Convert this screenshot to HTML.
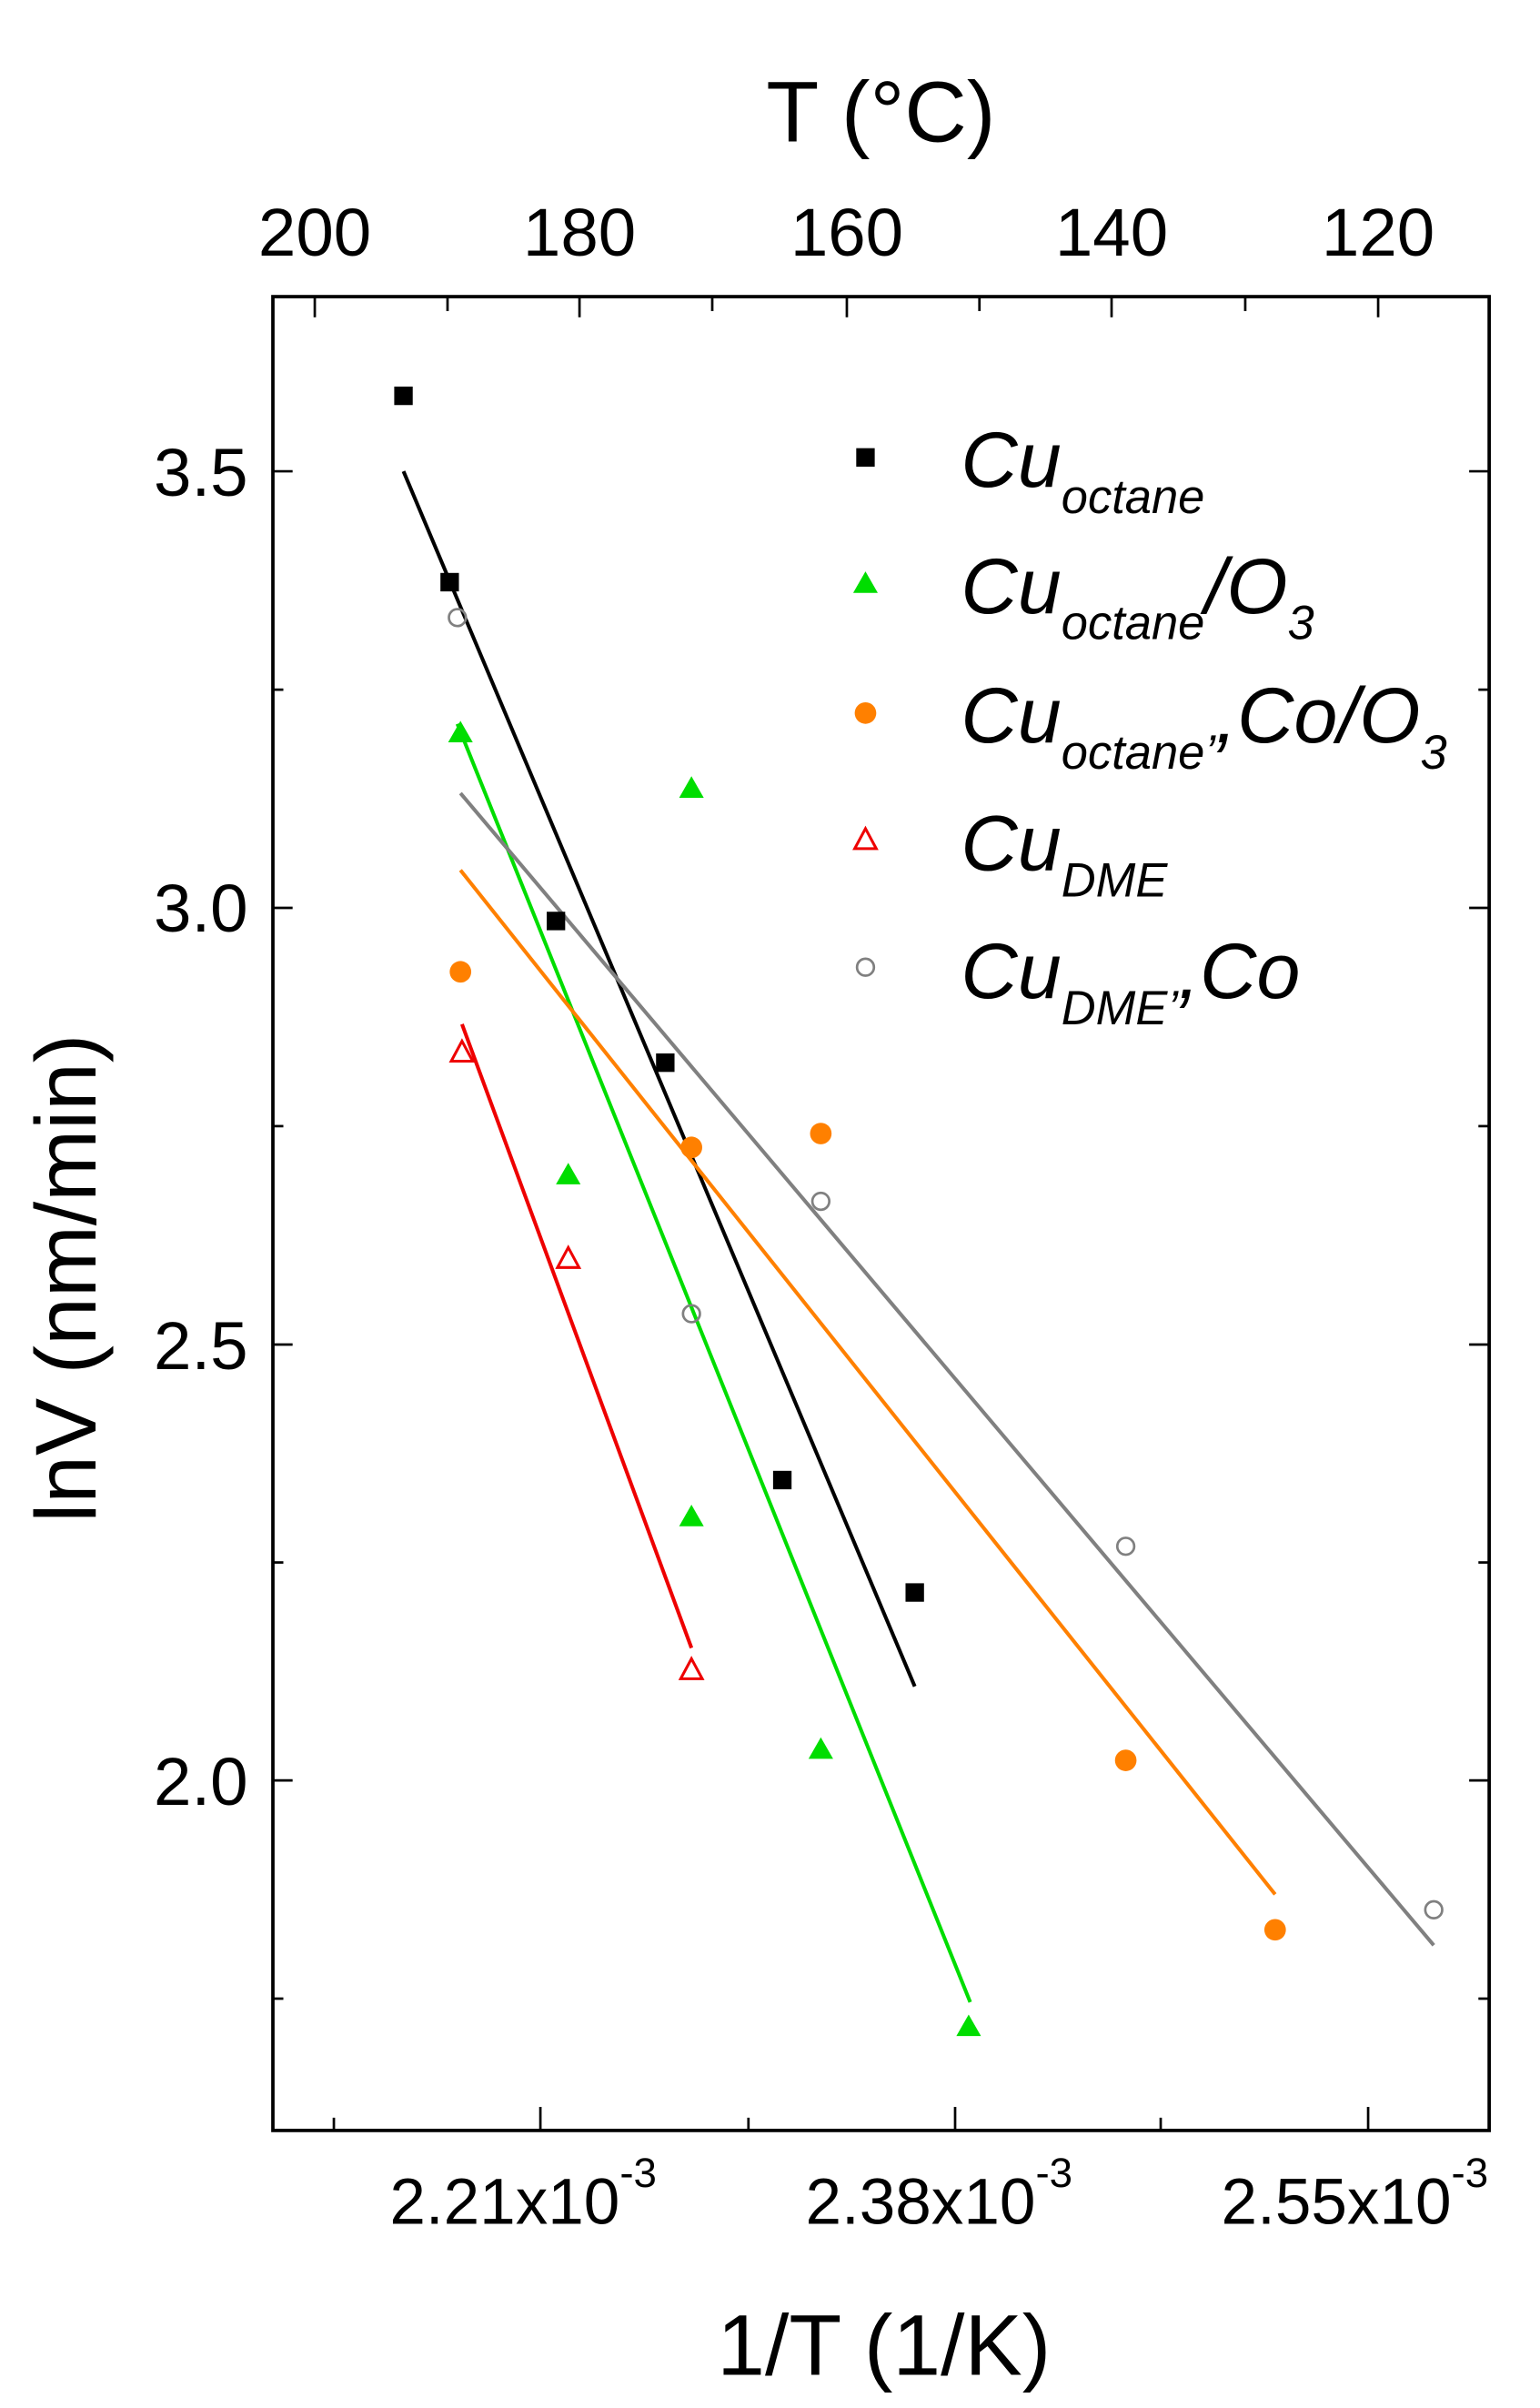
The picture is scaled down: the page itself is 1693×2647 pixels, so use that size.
<!DOCTYPE html>
<html><head><meta charset="utf-8"><style>
html,body{margin:0;padding:0;background:#fff;}
svg{display:block;}
text{font-family:"Liberation Sans",Arial,sans-serif;fill:#000;}
</style></head><body>
<svg width="1693" height="2647" viewBox="0 0 1000 1563.5" xmlns="http://www.w3.org/2000/svg" preserveAspectRatio="none">
<rect width="1000" height="1563.5" fill="#fff"/>
<rect x="177.2" y="192.6" width="789.8" height="1190.7" fill="none" stroke="#000" stroke-width="2.2"/>
<g stroke="#000" stroke-width="1.6">
<line x1="204.4" y1="192.6" x2="204.4" y2="206"/>
<line x1="290.6" y1="192.6" x2="290.6" y2="202"/>
<line x1="376.3" y1="192.6" x2="376.3" y2="206"/>
<line x1="462.5" y1="192.6" x2="462.5" y2="202"/>
<line x1="549.9" y1="192.6" x2="549.9" y2="206"/>
<line x1="636" y1="192.6" x2="636" y2="202"/>
<line x1="721.8" y1="192.6" x2="721.8" y2="206"/>
<line x1="808.6" y1="192.6" x2="808.6" y2="202"/>
<line x1="894.9" y1="192.6" x2="894.9" y2="206"/>
<line x1="216.8" y1="1383.3" x2="216.8" y2="1375"/>
<line x1="350.9" y1="1383.3" x2="350.9" y2="1368"/>
<line x1="486" y1="1383.3" x2="486" y2="1375"/>
<line x1="620.2" y1="1383.3" x2="620.2" y2="1368"/>
<line x1="753.7" y1="1383.3" x2="753.7" y2="1375"/>
<line x1="888.4" y1="1383.3" x2="888.4" y2="1368"/>
<line x1="177.2" y1="306" x2="190" y2="306"/><line x1="967" y1="306" x2="954" y2="306"/>
<line x1="177.2" y1="447.8" x2="184" y2="447.8"/><line x1="967" y1="447.8" x2="960" y2="447.8"/>
<line x1="177.2" y1="589.5" x2="190" y2="589.5"/><line x1="967" y1="589.5" x2="954" y2="589.5"/>
<line x1="177.2" y1="731.2" x2="184" y2="731.2"/><line x1="967" y1="731.2" x2="960" y2="731.2"/>
<line x1="177.2" y1="873" x2="190" y2="873"/><line x1="967" y1="873" x2="954" y2="873"/>
<line x1="177.2" y1="1014.5" x2="184" y2="1014.5"/><line x1="967" y1="1014.5" x2="960" y2="1014.5"/>
<line x1="177.2" y1="1156" x2="190" y2="1156"/><line x1="967" y1="1156" x2="954" y2="1156"/>
<line x1="177.2" y1="1297.7" x2="184" y2="1297.7"/><line x1="967" y1="1297.7" x2="960" y2="1297.7"/>
</g>
<g font-size="44" text-anchor="middle">
<text x="204.4" y="166">200</text>
<text x="376.3" y="166">180</text>
<text x="549.9" y="166">160</text>
<text x="721.8" y="166">140</text>
<text x="894.9" y="166">120</text>
</g>
<g font-size="44" text-anchor="end">
<text x="161" y="322">3.5</text>
<text x="161" y="605">3.0</text>
<text x="161" y="889">2.5</text>
<text x="161" y="1172">2.0</text>
</g>
<g font-size="42">
<text x="253" y="1444">2.21x10<tspan font-size="27" dy="-24">-3</tspan></text>
<text x="523" y="1444">2.38x10<tspan font-size="27" dy="-24">-3</tspan></text>
<text x="793" y="1444">2.55x10<tspan font-size="27" dy="-24">-3</tspan></text>
</g>
<text x="572" y="92" font-size="56" text-anchor="middle">T (°C)</text>
<text x="574" y="1542" font-size="56" text-anchor="middle">1/T (1/K)</text>
<text transform="translate(62,830) rotate(-90)" font-size="56" text-anchor="middle">lnV (nm/min)</text>
<g stroke-width="2.4">
<line x1="262" y1="306" x2="594" y2="1095" stroke="#000"/>
<line x1="297" y1="470" x2="630" y2="1300" stroke="#00dd00"/>
<line x1="299" y1="565" x2="828" y2="1230" stroke="#ff8000"/>
<line x1="300" y1="665" x2="449" y2="1070" stroke="#ee0000"/>
<line x1="299" y1="515" x2="931" y2="1263" stroke="#808080"/>
</g>
<g fill="#000">
<rect x="256" y="251" width="12" height="12"/>
<rect x="286" y="372" width="12" height="12"/>
<rect x="355" y="592" width="12" height="12"/>
<rect x="426" y="684" width="12" height="12"/>
<rect x="502" y="955" width="12" height="12"/>
<rect x="588" y="1028" width="12" height="12"/>
<rect x="556" y="291" width="12" height="12"/>
</g>
<g fill="#00dd00">
<polygon points="299,468 291,482 307,482"/>
<polygon points="449,504 441,518 457,518"/>
<polygon points="369,755 361,769 377,769"/>
<polygon points="449,977 441,991 457,991"/>
<polygon points="533,1128 525,1142 541,1142"/>
<polygon points="629,1308 621,1322 637,1322"/>
<polygon points="562,371 554,385 570,385"/>
</g>
<g fill="#ff8000">
<circle cx="299" cy="631" r="7"/>
<circle cx="449" cy="745" r="7"/>
<circle cx="533" cy="736" r="7"/>
<circle cx="731" cy="1143" r="7"/>
<circle cx="828" cy="1253" r="7"/>
<circle cx="562" cy="463" r="7"/>
</g>
<g fill="none" stroke="#ee0000" stroke-width="1.8">
<polygon points="300,676 293,689 307,689"/>
<polygon points="369,810 362,823 376,823"/>
<polygon points="449,1077 442,1090 456,1090"/>
<polygon points="562,538 555,551 569,551"/>
</g>
<g fill="none" stroke="#808080" stroke-width="1.6">
<circle cx="297" cy="401" r="5.5"/>
<circle cx="449" cy="853" r="5.5"/>
<circle cx="533" cy="780" r="5.5"/>
<circle cx="731" cy="1004" r="5.5"/>
<circle cx="931" cy="1240" r="5.5"/>
<circle cx="562" cy="628" r="5.5"/>
</g>
<g font-style="italic" font-size="51">
<text x="624" y="316">Cu<tspan font-size="31" dy="17">octane</tspan></text>
<text x="624" y="398">Cu<tspan font-size="31" dy="17">octane</tspan><tspan dy="-17">/O</tspan><tspan font-size="31" dy="17">3</tspan></text>
<text x="624" y="482">Cu<tspan font-size="31" dy="17">octane’</tspan><tspan dy="-17">,Co/O</tspan><tspan font-size="31" dy="17">3</tspan></text>
<text x="624" y="565">Cu<tspan font-size="31" dy="17">DME</tspan></text>
<text x="624" y="648">Cu<tspan font-size="31" dy="17">DME’</tspan><tspan dy="-17">,Co</tspan></text>
</g>
</svg>
</body></html>
